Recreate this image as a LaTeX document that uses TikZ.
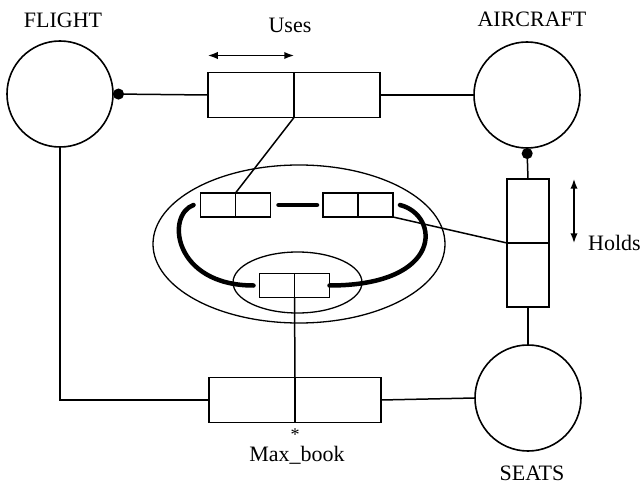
\documentclass[tikz,border=0pt]{standalone}
\usepackage{fontspec}
\setmainfont{Liberation Serif}
\usepackage{tikz}
\usetikzlibrary{positioning, arrows.meta, shapes.geometric}

\begin{document}
\begin{tikzpicture}[
  x=1pt, y=-1pt,
  entity/.style={circle, draw, line width=1.6pt, minimum size=106pt, inner sep=0pt, outer sep=0pt},
  half/.style={rectangle, draw, line width=1.6pt, minimum width=86pt, minimum height=45pt, inner sep=0pt, outer sep=0pt},
  vhalf/.style={rectangle, draw, line width=1.6pt, minimum width=42pt, minimum height=64pt, inner sep=0pt, outer sep=0pt},
  cell/.style={rectangle, draw, line width=1.3pt, minimum width=35pt, minimum height=24pt, inner sep=0pt, outer sep=0pt},
  ring/.style={ellipse, draw, line width=1.3pt, inner sep=0pt},
  lbl/.style={font=\fontsize{22}{26}\selectfont, inner sep=0pt, anchor=base},
  link/.style={line width=1.5pt},
  thick link/.style={line width=4.5pt, line cap=round},
  node distance=0pt
]
\useasboundingbox (0,0) rectangle (643,484);

% entities
\node[entity] (flight) at (60,94) {};
\node[entity] (aircraft) at (527,95) {};
\node[entity] (seats) at (528,398) {};

% relationship boxes
\node[half] (usesL) at (251,95) {};
\node[half, right=of usesL] (usesR) {};
\node[vhalf] (holdsT) at (528,211) {};
\node[vhalf, below=of holdsT] (holdsB) {};
\node[half] (bookL) at (252,400) {};
\node[half, right=of bookL] (bookR) {};

% inner structure
\node[ring, minimum width=292pt, minimum height=158pt] (outer) at (299,244) {};
\node[ring, minimum width=129pt, minimum height=61pt] (inner) at (297.5,282.5) {};
\node[cell] (aL) at (218,205) {};
\node[cell, right=of aL] (aR) {};
\node[cell] (bL) at (340.5,205) {};
\node[cell, right=of bL] (bR) {};
\node[cell] (cL) at (277,285.5) {};
\node[cell, right=of cL] (cR) {};

% labels
\node[lbl] (flightlbl) at (63,28) {FLIGHT};
\node[lbl] (aircraftlbl) at (532,27) {AIRCRAFT};
\node[lbl] (seatslbl) at (532,480) {SEATS};
\node[lbl] (useslbl) at (290,33) {Uses};
\node[lbl, anchor=base west] (holdslbl) at (588,250) {Holds};
\node[lbl] (booklbl) at (297,461) {Max\_book};
\node[lbl, font=\fontsize{18}{20}\selectfont] (star) at (295,440) {*};

% connectors
\draw[link, {Circle[length=11pt]}-] (flight.east) -- (usesL.west);
\draw[link] (usesR.east) -- (aircraft.west);
\draw[link, {Circle[length=11pt]}-] (aircraft.south) -- (holdsT.north);
\draw[link] (holdsB.south) -- (seats.north);
\draw[link] (flight.south) |- (bookL.west);
\draw[link] (bookR.east) -- (seats.west);
\draw[link] (usesL.south east) -- (aL.north east);
\draw[link] (bR.south east) -- (holdsT.south west);
\draw[link] (cL.south east) -- (bookL.north east);

% direction arrows
\draw[link, {Latex}-{Latex}] ([yshift=17pt]usesL.north west) -- ([yshift=17pt]usesL.north east);
\draw[link, {Latex}-{Latex}] ([xshift=25pt]holdsT.north east) -- ([xshift=25pt]holdsT.south east);

% heavy links
\draw[thick link] ([xshift=8pt]aR.east) -- ([xshift=-6pt]bL.west);
\draw[thick link] ([xshift=-7pt]aL.west) .. controls +(-28,10) and +(-80,0) .. ([xshift=-6pt]cL.west);
\draw[thick link] ([xshift=7pt]bR.east) .. controls +(40,10) and +(115,0) .. (cR.east);
\end{tikzpicture}
\end{document}
